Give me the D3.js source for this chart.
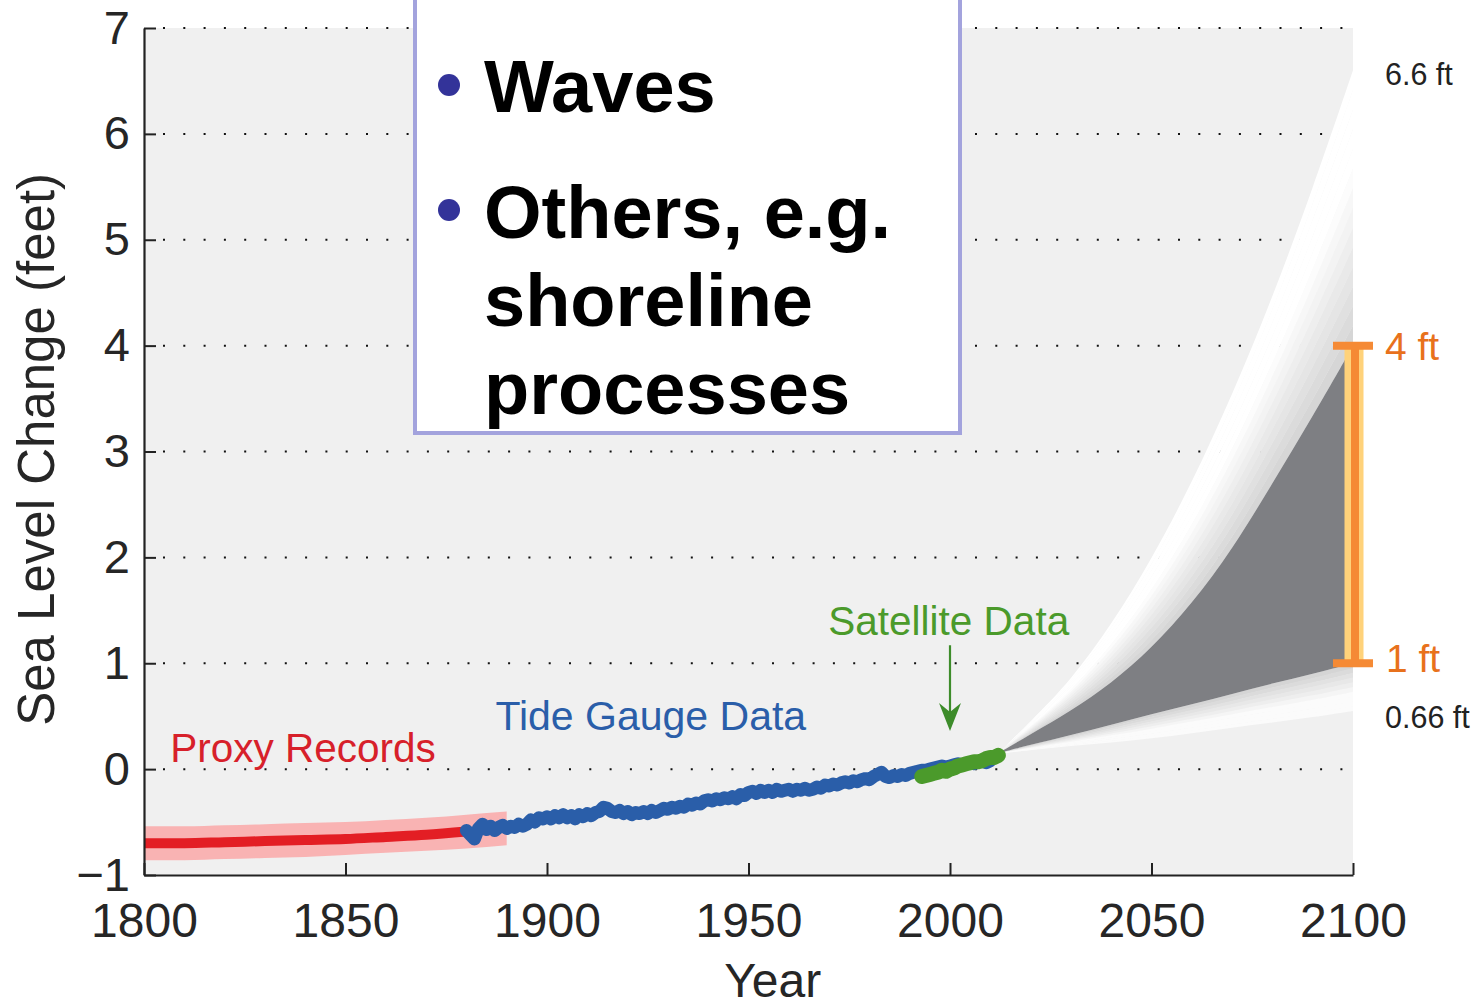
<!DOCTYPE html>
<html><head><meta charset="utf-8">
<script src="https://cdn.jsdelivr.net/npm/d3@7"></script>
<style>
body{margin:0;background:#fff;}
svg{display:block;}
text{font-family:"Liberation Sans",Arial,Helvetica,sans-serif;}
</style>
</head><body><svg id="c" width="1479" height="1006"></svg>
<script>
// ---------- DATA ----------
const xTicks = [1800, 1850, 1900, 1950, 2000, 2050, 2100];
const yTicks = [-1, 0, 1, 2, 3, 4, 5, 6, 7];
const yTickLabels = ["\u22121", "0", "1", "2", "3", "4", "5", "6", "7"];

// Proxy records (red line + pink uncertainty band)
const proxyYears = [1800, 1810, 1820, 1830, 1840, 1850, 1860, 1870, 1880, 1890];
const proxyMid   = [-0.70, -0.70, -0.69, -0.68, -0.67, -0.66, -0.64, -0.62, -0.59, -0.56];
const proxyLower = [-0.86, -0.86, -0.85, -0.84, -0.83, -0.81, -0.79, -0.77, -0.75, -0.72];
const proxyUpper = [-0.54, -0.54, -0.53, -0.52, -0.51, -0.50, -0.48, -0.46, -0.43, -0.40];

// Tide gauge data 1880..2010 (annual)
const tideStart = 1880;
const tideValues = [
 -0.58,-0.62,-0.66,-0.56,-0.52,-0.57,-0.54,-0.58,-0.55,-0.53,
 -0.56,-0.54,-0.55,-0.52,-0.54,-0.52,-0.48,-0.50,-0.46,-0.47,
 -0.45,-0.47,-0.44,-0.46,-0.43,-0.46,-0.44,-0.47,-0.43,-0.45,
 -0.42,-0.44,-0.41,-0.40,-0.36,-0.37,-0.40,-0.41,-0.39,-0.42,
 -0.40,-0.43,-0.41,-0.42,-0.40,-0.42,-0.39,-0.41,-0.39,-0.37,
 -0.38,-0.36,-0.37,-0.35,-0.36,-0.33,-0.34,-0.32,-0.33,-0.30,
 -0.29,-0.30,-0.28,-0.29,-0.27,-0.28,-0.26,-0.28,-0.24,-0.25,
 -0.22,-0.21,-0.23,-0.20,-0.22,-0.20,-0.22,-0.19,-0.21,-0.20,
 -0.19,-0.21,-0.19,-0.20,-0.18,-0.20,-0.19,-0.17,-0.18,-0.15,
 -0.16,-0.14,-0.15,-0.13,-0.12,-0.13,-0.11,-0.12,-0.10,-0.09,
 -0.10,-0.07,-0.05,-0.03,-0.07,-0.08,-0.06,-0.07,-0.05,-0.06,
 -0.04,-0.03,-0.02,-0.01,-0.01,0.00,0.01,0.02,0.03,0.02,
 0.03,0.04,0.05,0.04,0.05,0.06,0.05,0.07,0.08,0.06,
 0.08
];

// Satellite data 1993..2012
const satStart = 1993;
const satValues = [-0.07,-0.06,-0.05,-0.04,-0.03,-0.01,-0.02,0.00,0.01,0.03,
                   0.04,0.05,0.06,0.07,0.07,0.08,0.10,0.11,0.11,0.13];

// Projections to 2100
const projYears      = [2012, 2020, 2030, 2040, 2050, 2060, 2070, 2080, 2090, 2100];
const projHighOuter  = [0.15, 0.45, 0.84, 1.36, 1.98, 2.70, 3.53, 4.45, 5.48, 6.60]; // 6.6 ft
const projHighInner  = [0.15, 0.33, 0.55, 0.81, 1.14, 1.56, 2.07, 2.70, 3.33, 4.00]; // 4 ft
const projLowInner   = [0.15, 0.23, 0.32, 0.42, 0.52, 0.61, 0.71, 0.81, 0.90, 1.00]; // 1 ft
const projLowOuter   = [0.15, 0.18, 0.22, 0.25, 0.29, 0.34, 0.39, 0.44, 0.49, 0.55]; // 0.66 ft

const rangeTop = 4, rangeBottom = 1, rangeYear = 2100;

// ---------- CHART ----------
const svg = d3.select("#c");
const x = d3.scaleLinear().domain([1800, 2100]).range([144, 1353]);
const y = d3.scaleLinear().domain([-1, 7]).range([875, 28]);

// plot background
svg.append("rect").attr("x", x(1800)).attr("y", y(7))
  .attr("width", x(2100) - x(1800)).attr("height", y(-1) - y(7)).attr("fill", "#f0f0f0");

// dotted gridlines
svg.append("g").selectAll("line").data(yTicks.filter(v => v > -1)).join("line")
  .attr("x1", x(1800) + 19).attr("x2", x(2100) - 4)
  .attr("y1", d => y(d)).attr("y2", d => y(d))
  .attr("stroke", "#111").attr("stroke-width", 2).attr("stroke-dasharray", "2 18.3");

// projection fan
const area = d3.area().x(d => x(d.yr)).y0(d => y(d.a)).y1(d => y(d.b)).curve(d3.curveBasis);
function bandStack(inner, outer, cIn, cOut, n) {
  const col = d3.interpolateRgb(cIn, cOut);
  for (let k = 0; k < n; k++) {
    const f0 = k / n, f1 = (k + 1) / n;
    const pts = projYears.map((yr, i) => ({
      yr,
      a: inner[i] + f0 * (outer[i] - inner[i]),
      b: inner[i] + f1 * (outer[i] - inner[i]) + (k < n - 1 ? 0.004 * (outer[i] - inner[i] > 0 ? 1 : -1) : 0)
    }));
    const t = Math.min(1, (k + 0.5) / (n * 0.65));
    svg.append("path").datum(pts).attr("d", area).attr("fill", col(t));
  }
}
bandStack(projHighInner, projHighOuter, "#d4d4d4", "#ffffff", 14);
bandStack(projLowInner, projLowOuter, "#d2d2d2", "#fbfbfb", 10);
svg.append("path")
  .datum(projYears.map((yr, i) => ({ yr, a: projLowInner[i], b: projHighInner[i] })))
  .attr("d", area).attr("fill", "#7e7f83");

// proxy band + line
const pArea = d3.area().x(d => x(d.yr)).y0(d => y(d.a)).y1(d => y(d.b)).curve(d3.curveMonotoneX);
svg.append("path")
  .datum(proxyYears.map((yr, i) => ({ yr, a: proxyLower[i], b: proxyUpper[i] })))
  .attr("d", pArea).attr("fill", "#f9b3b3");
svg.append("path")
  .datum(proxyYears.slice(0, 9).map((yr, i) => [yr, proxyMid[i]]))
  .attr("d", d3.line().x(d => x(d[0])).y(d => y(d[1])).curve(d3.curveMonotoneX))
  .attr("fill", "none").attr("stroke", "#e31e24").attr("stroke-width", 10);

// tide gauge
const tide = tideValues.map((v, i) => [tideStart + i, v]);
svg.append("path").datum(tide).attr("d", d3.line().x(d => x(d[0])).y(d => y(d[1])))
  .attr("fill", "none").attr("stroke", "#2a5ea9").attr("stroke-width", 13)
  .attr("stroke-linejoin", "round").attr("stroke-linecap", "round");

// satellite
const sat = satValues.map((v, i) => [satStart + i, v]);
svg.append("path").datum(sat).attr("d", d3.line().x(d => x(d[0])).y(d => y(d[1])))
  .attr("fill", "none").attr("stroke", "#4b9a2b").attr("stroke-width", 15)
  .attr("stroke-linejoin", "round").attr("stroke-linecap", "round");

// axes
const xAxis = d3.axisBottom(x).tickValues(xTicks).tickFormat(d3.format("d"))
  .tickSizeInner(-12).tickSizeOuter(0).tickPadding(28);
const gx = svg.append("g").attr("transform", `translate(0,${y(-1)})`).call(xAxis);
const yAxis = d3.axisLeft(y).tickValues(yTicks).tickFormat((d, i) => yTickLabels[i])
  .tickSizeInner(-12).tickSizeOuter(0).tickPadding(14);
const gy = svg.append("g").attr("transform", `translate(${x(1800)},0)`).call(yAxis);
[gx, gy].forEach(g => {
  g.select(".domain").attr("stroke", "#222").attr("stroke-width", 2.2);
  g.selectAll(".tick line").attr("stroke", "#222").attr("stroke-width", 2);
  g.selectAll(".tick text").attr("fill", "#262626")
    .style("font-family", "'Liberation Sans', Arial, sans-serif");
});
gx.selectAll(".tick text").style("font-size", "48px");
gy.selectAll(".tick text").style("font-size", "47px");

// axis titles
svg.append("text").attr("x", x(1956)).attr("y", 997).attr("text-anchor", "middle")
  .attr("fill", "#262626").style("font-size", "48px").text("Year");
svg.append("text").attr("transform", `translate(54,${y(3.02)}) rotate(-90)`)
  .attr("text-anchor", "middle").attr("fill", "#262626").style("font-size", "51px")
  .text("Sea Level Change (feet)");

// series labels
svg.append("text").attr("x", x(1806.5)).attr("y", y(0.07)).attr("fill", "#d7202a")
  .style("font-size", "40.5px").text("Proxy Records");
svg.append("text").attr("x", x(1887.2)).attr("y", y(0.37)).attr("fill", "#2a5ea9")
  .style("font-size", "41px").text("Tide Gauge Data");
svg.append("text").attr("x", x(1969.8)).attr("y", y(1.27)).attr("fill", "#4b9a2b")
  .style("font-size", "40.5px").text("Satellite Data");

// green arrow
svg.append("line").attr("x1", x(2000)).attr("x2", x(2000)).attr("y1", y(1.17)).attr("y2", y(0.5))
  .attr("stroke", "#3d8c2a").attr("stroke-width", 2.2);
const ax = x(2000), tipY = y(0.36);
svg.append("path")
  .attr("d", `M${ax},${tipY} L${ax - 11},${tipY - 28} L${ax},${tipY - 19} L${ax + 11},${tipY - 28} Z`)
  .attr("fill", "#3d8c2a");

// range bar at 2100
const bx = x(rangeYear) + 1;
svg.append("line").attr("x1", bx).attr("x2", bx).attr("y1", y(rangeTop)).attr("y2", y(rangeBottom))
  .attr("stroke", "#ffd27a").attr("stroke-width", 19);
svg.append("line").attr("x1", bx + 1).attr("x2", bx + 1).attr("y1", y(rangeTop)).attr("y2", y(rangeBottom))
  .attr("stroke", "#f58a35").attr("stroke-width", 8);
[rangeTop, rangeBottom].forEach(v => {
  svg.append("line").attr("x1", bx - 21).attr("x2", bx + 19).attr("y1", y(v)).attr("y2", y(v))
    .attr("stroke", "#f58a35").attr("stroke-width", 8);
});

// right-side labels
svg.append("text").attr("x", 1385).attr("y", 85).attr("fill", "#222").style("font-size", "30.5px").text("6.6 ft");
svg.append("text").attr("x", 1385).attr("y", 360).attr("fill", "#e8711c").style("font-size", "39px").text("4 ft");
svg.append("text").attr("x", 1386).attr("y", 672).attr("fill", "#e8711c").style("font-size", "39px").text("1 ft");
svg.append("text").attr("x", 1385).attr("y", 728).attr("fill", "#222").style("font-size", "30.5px").text("0.66 ft");

// text box
svg.append("rect").attr("x", 415).attr("y", -12).attr("width", 545).attr("height", 445)
  .attr("fill", "#fff").attr("stroke", "#a3a3dd").attr("stroke-width", 4);
const bullets = [{ y: 85 }, { y: 210 }];
svg.selectAll("circle.b").data(bullets).join("circle").attr("class", "b")
  .attr("cx", 449).attr("cy", d => d.y).attr("r", 11).attr("fill", "#333399");
const boxLines = [["Waves", 112], ["Others, e.g.", 238], ["shoreline", 326], ["processes", 414]];
svg.selectAll("text.bx").data(boxLines).join("text").attr("class", "bx")
  .attr("x", 484).attr("y", d => d[1]).attr("fill", "#000")
  .style("font-size", "74px").style("font-weight", "bold").text(d => d[0]);
</script></body></html>
